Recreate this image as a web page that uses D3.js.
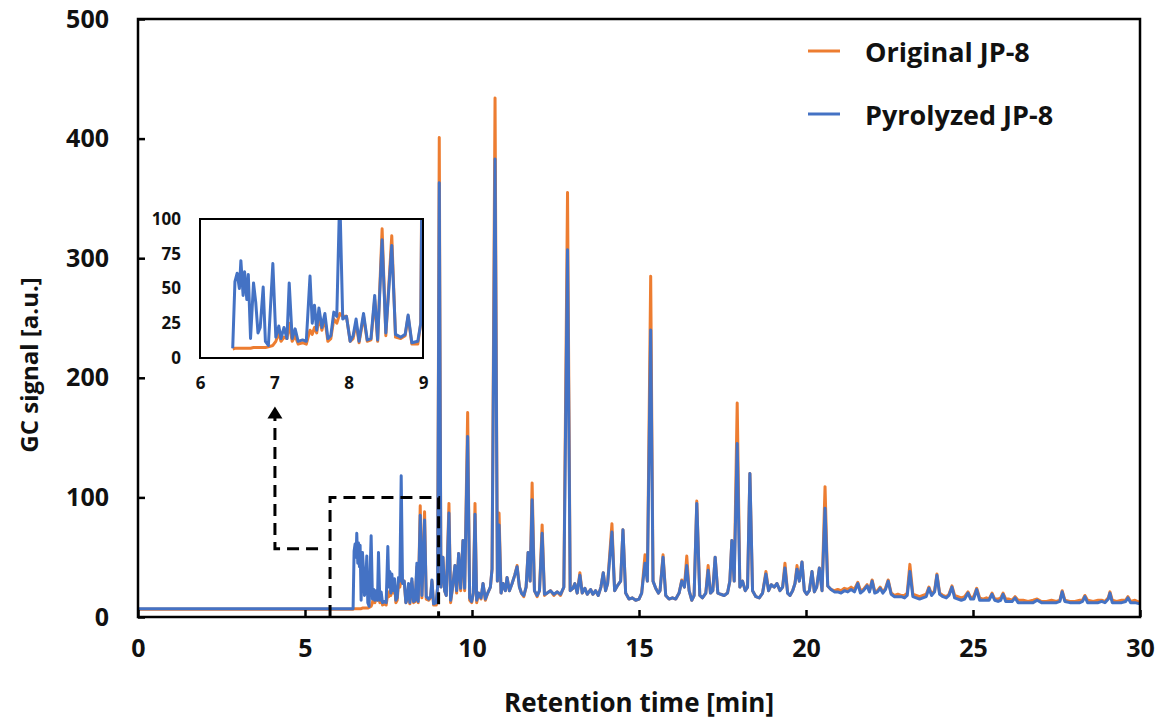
<!DOCTYPE html>
<html><head><meta charset="utf-8">
<script src="https://cdn.jsdelivr.net/npm/d3@7"></script>
<style>
body{margin:0;background:#fff}
svg{display:block}
text{font-family:"Open Sans","Noto Sans",sans-serif;font-weight:700;fill:#111}
</style>
</head><body>
<svg id="chart" width="1160" height="725"></svg>
<script>
// ---------------- data ----------------
const seriesNames = ["Original JP-8", "Pyrolyzed JP-8"];
const xTicks = [0, 5, 10, 15, 20, 25, 30];
const yTicks = [0, 100, 200, 300, 400, 500];
const insetXTicks = [6, 7, 8, 9];
const insetYTicks = [0, 25, 50, 75, 100];
const xLabel = "Retention time [min]";
const yLabel = "GC signal [a.u.]";

const retentionTime = [
  0, 6.44, 6.47, 6.5, 6.53, 6.55, 6.58, 6.6, 6.63, 6.65, 6.68,
  6.72, 6.75, 6.78, 6.81, 6.85, 6.88, 6.92, 6.98, 7.02, 7.06, 7.09, 7.13, 7.17,
  7.2, 7.24, 7.28, 7.32, 7.38, 7.43, 7.48, 7.51, 7.54, 7.57, 7.6, 7.64, 7.68,
  7.72, 7.76, 7.8, 7.84, 7.88, 7.92, 7.97, 8.02, 8.06, 8.1, 8.14, 8.2,
  8.25, 8.3, 8.35, 8.39, 8.45, 8.5, 8.58, 8.63, 8.7, 8.76, 8.8, 8.85, 8.93, 8.97,
  9.02, 9.07, 9.13, 9.18, 9.23, 9.31, 9.36, 9.42, 9.49, 9.54,
  9.6, 9.66, 9.73, 9.78, 9.87, 9.93, 9.99, 10.04, 10.09, 10.14,
  10.2, 10.27, 10.33, 10.4, 10.47, 10.55, 10.6, 10.69, 10.76, 10.81, 10.87,
  10.93, 11.0, 11.05, 11.12, 11.2, 11.28, 11.35, 11.42, 11.48, 11.55,
  11.62, 11.68, 11.74, 11.8, 11.87, 11.95, 12.02, 12.1, 12.17,
  12.25, 12.35, 12.45, 12.55, 12.65, 12.75, 12.86, 12.94,
  13.02, 13.08, 13.15, 13.23, 13.3, 13.38, 13.45, 13.55, 13.62, 13.7, 13.78,
  13.86, 13.93, 14.0, 14.06, 14.19, 14.27, 14.35, 14.45, 14.52, 14.6,
  14.7, 14.8, 14.9, 15.0, 15.08, 15.18, 15.25, 15.35, 15.42, 15.5,
  15.58, 15.63, 15.72, 15.8, 15.9, 16.0, 16.1, 16.2, 16.28, 16.36,
  16.43, 16.5, 16.58, 16.65, 16.73, 16.82, 16.9, 17.0, 17.07, 17.14,
  17.21, 17.28, 17.36, 17.45, 17.55, 17.65, 17.72, 17.78, 17.85,
  17.94, 18.02, 18.1, 18.18, 18.25, 18.32, 18.4, 18.5, 18.6, 18.7,
  18.8, 18.88, 18.96, 19.05, 19.13, 19.22, 19.3, 19.37, 19.45, 19.52,
  19.6, 19.67, 19.73, 19.8, 19.88, 19.95, 20.02, 20.1, 20.18, 20.25, 20.32,
  20.4, 20.48, 20.57, 20.65, 20.75, 20.85, 20.95, 21.05, 21.15, 21.25,
  21.35, 21.45, 21.55, 21.63, 21.72, 21.83, 21.9, 21.98, 22.06,
  22.14, 22.22, 22.3, 22.38, 22.46, 22.55, 22.65, 22.75, 22.85,
  22.95, 23.03, 23.11, 23.2, 23.3, 23.4, 23.5, 23.6, 23.68,
  23.76, 23.85, 23.92, 24.0, 24.1, 24.2, 24.28, 24.37, 24.45,
  24.55, 24.65, 24.75, 24.85, 24.93, 25.02, 25.11, 25.2,
  25.3, 25.4, 25.48, 25.57, 25.65, 25.75, 25.83, 25.9, 25.98,
  26.08, 26.17, 26.26, 26.35, 26.5, 26.65, 26.8, 26.92, 27.05,
  27.2, 27.35, 27.5, 27.6, 27.67, 27.75, 27.9, 28.05,
  28.2, 28.28, 28.35, 28.43, 28.6, 28.75, 28.85, 28.95,
  29.05, 29.1, 29.17, 29.3, 29.45, 29.57, 29.64, 29.72, 29.85, 30
];

const originalJP8 = [
  6.5, 6.5, 7, 7, 7, 7, 7, 7, 7, 7, 7,
  7.5, 7.5, 7.5, 7.5, 7.5, 7.5, 8, 9, 12, 18, 12, 15, 14,
  25, 12, 16, 10, 11, 10, 20, 17, 22, 18, 30, 20, 28,
  12, 14, 28, 25, 32, 30, 30, 12, 14, 25, 11, 30,
  12, 13, 42, 12, 93, 16, 88, 15, 14, 16, 30, 10, 10, 25,
  401, 25, 50, 22, 18, 95, 12, 25, 43, 20,
  53, 22, 64, 22, 171, 14, 12, 20, 95, 12,
  20, 15, 28, 14, 20, 25, 40, 434, 30, 87, 20,
  28, 22, 33, 22, 28, 35, 43, 25, 20, 17,
  25, 54, 30, 112, 22, 17, 22, 77, 18,
  20, 22, 18, 21, 18, 25, 355, 22,
  24, 28, 20, 37, 20, 24, 19, 23, 19, 22, 18,
  25, 37, 22, 28, 78, 22, 26, 30, 73, 20,
  15, 16, 14, 15, 20, 52, 30, 285, 30, 24,
  20, 22, 52, 18, 15, 16, 15, 20, 31, 25,
  51, 22, 14, 18, 97, 18, 16, 20, 43, 20,
  22, 50, 20, 19, 18, 20, 30, 64, 30,
  179, 25, 30, 22, 25, 120, 22, 17, 16, 20,
  38, 22, 27, 25, 28, 22, 25, 45, 20, 18,
  22, 28, 43, 30, 46, 22, 19, 22, 38, 21, 25,
  41, 22, 109, 26, 23, 22, 23, 22, 24, 23,
  25, 23, 29, 22, 23, 27, 22, 31, 21,
  22, 25, 21, 24, 31, 20, 18, 19, 18,
  18, 20, 44, 19, 18, 17, 18, 19, 25,
  19, 22, 36, 20, 18, 17, 19, 26, 18,
  17, 16, 17, 21, 16, 17, 24, 16,
  15, 16, 15, 20, 15, 15, 16, 20, 15,
  15, 14, 17, 14, 14, 13, 14, 15, 13,
  13, 14, 13, 14, 22, 14, 13, 13,
  14, 14, 18, 14, 13, 14, 14, 13,
  16, 21, 14, 13, 14, 14, 17, 13, 14, 12
];

const pyrolyzedJP8 = [
  7, 7, 55, 61, 50, 70, 45, 62, 42, 60, 14,
  54, 40, 18, 22, 51, 12, 9, 68, 15, 23, 14, 22, 14,
  54, 14, 21, 12, 13, 12, 59, 25, 38, 20, 36, 22, 32,
  14, 16, 33, 30, 118, 28, 30, 12, 16, 28, 12, 32,
  13, 14, 45, 13, 85, 18, 81, 17, 15, 17, 31, 11, 12, 25,
  363, 25, 50, 22, 18, 87, 14, 25, 43, 22,
  53, 24, 64, 24, 151, 16, 13, 20, 86, 14,
  20, 16, 28, 15, 20, 25, 40, 383, 30, 77, 20,
  28, 22, 33, 22, 28, 35, 42, 25, 20, 18,
  25, 54, 30, 98, 22, 18, 22, 70, 19,
  20, 22, 19, 21, 19, 25, 307, 22,
  24, 28, 20, 35, 20, 24, 19, 23, 19, 22, 18,
  25, 37, 22, 28, 71, 22, 26, 30, 73, 20,
  15, 16, 14, 15, 20, 45, 30, 240, 30, 24,
  20, 22, 50, 18, 15, 16, 15, 20, 30, 25,
  43, 22, 14, 18, 95, 18, 16, 20, 39, 20,
  22, 50, 20, 19, 18, 20, 30, 64, 30,
  145, 25, 30, 22, 25, 120, 22, 17, 16, 20,
  36, 22, 27, 25, 28, 22, 25, 41, 20, 18,
  22, 28, 40, 30, 46, 22, 19, 22, 38, 21, 25,
  41, 22, 91, 26, 23, 21, 21, 20, 22, 21,
  23, 21, 28, 20, 22, 26, 21, 30, 20,
  21, 24, 20, 23, 30, 19, 17, 17, 17,
  16, 18, 38, 17, 16, 15, 16, 17, 24,
  18, 21, 35, 19, 17, 16, 18, 25, 16,
  15, 14, 15, 20, 15, 15, 23, 14,
  14, 14, 14, 19, 14, 13, 14, 19, 13,
  13, 13, 16, 12, 12, 12, 12, 14, 12,
  12, 12, 12, 13, 21, 13, 12, 12,
  12, 13, 17, 12, 12, 12, 13, 12,
  15, 20, 12, 12, 12, 13, 16, 12, 12, 11
];

// annotation anchors in data units
const zoomBox = {t0: 5.75, t1: 9, v1: 100};
const arrowPath = {tCorner: 4.1, vCorner: 57, vTip: 176};

// ---------------- drawing ----------------
const colors = ["#ED7D31", "#4472C4"];
const plot = {left: 138, right: 1140, top: 19, bottom: 617};
const svg = d3.select("#chart");
const FONT = '"Open Sans","Noto Sans",sans-serif';

const x = d3.scaleLinear().domain([0, 30]).range([plot.left, plot.right]);
const y = d3.scaleLinear().domain([0, 500]).range([plot.bottom, plot.top]);

const n = Math.min(retentionTime.length, originalJP8.length, pyrolyzedJP8.length);
const rows = d3.range(n).map(i => ({t: retentionTime[i], v: [originalJP8[i], pyrolyzedJP8[i]]}));

// main lines
[0, 1].forEach(k => {
  svg.append("path")
    .datum(rows)
    .attr("fill", "none")
    .attr("stroke", colors[k])
    .attr("stroke-width", 3)
    .attr("stroke-linejoin", "round")
    .attr("d", d3.line().x(d => x(d.t)).y(d => y(d.v[k])));
});

// axes
const gx = svg.append("g")
  .attr("transform", `translate(0,${plot.bottom})`)
  .call(d3.axisBottom(x).tickValues(xTicks).tickSizeInner(-7).tickSizeOuter(0).tickPadding(22));
const gy = svg.append("g")
  .attr("transform", `translate(${plot.left},0)`)
  .call(d3.axisLeft(y).tickValues(yTicks).tickSizeInner(-7).tickSizeOuter(0).tickPadding(29));
[gx, gy].forEach(g => {
  g.select(".domain").remove();
  g.selectAll(".tick line").attr("stroke", "#000").attr("stroke-width", 2.5);
  g.selectAll(".tick text").style("font-size", "25px").style("font-family", FONT).style("font-weight", 700).attr("fill", "#111");
});

// frame
svg.append("rect")
  .attr("x", plot.left).attr("y", plot.top)
  .attr("width", plot.right - plot.left).attr("height", plot.bottom - plot.top)
  .attr("fill", "none").attr("stroke", "#000").attr("stroke-width", 2.5);

// axis titles
svg.append("text")
  .attr("x", (plot.left + plot.right) / 2).attr("y", 712)
  .attr("text-anchor", "middle").style("font-size", "26px")
  .text(xLabel);
svg.append("text")
  .attr("transform", `translate(38,365) rotate(-90)`)
  .attr("text-anchor", "middle").style("font-size", "24px")
  .text(yLabel);

// dashed zoom box and arrow
const dash = {stroke: "#000", width: 3, array: "12,7"};
svg.append("path")
  .attr("d", `M${x(zoomBox.t0)},${y(0)} V${y(zoomBox.v1)} H${x(zoomBox.t1)} V${y(0)}`)
  .attr("fill", "none").attr("stroke", dash.stroke).attr("stroke-width", dash.width)
  .attr("stroke-dasharray", dash.array);
const tipY = y(arrowPath.vTip);
svg.append("path")
  .attr("d", `M${x(zoomBox.t0) - 12},${y(arrowPath.vCorner)} H${x(arrowPath.tCorner)} V${tipY + 11}`)
  .attr("fill", "none").attr("stroke", dash.stroke).attr("stroke-width", dash.width)
  .attr("stroke-dasharray", dash.array);
svg.append("path")
  .attr("d", `M${x(arrowPath.tCorner)},${tipY} l-7.5,12 h15 z`)
  .attr("fill", "#000");

// inset
const inset = {left: 200, right: 423, top: 219, bottom: 358};
const xi = d3.scaleLinear().domain([6, 9]).range([inset.left, inset.right]);
const yi = d3.scaleLinear().domain([0, 100]).range([inset.bottom, inset.top]);
svg.append("rect")
  .attr("x", inset.left).attr("y", inset.top)
  .attr("width", inset.right - inset.left).attr("height", inset.bottom - inset.top)
  .attr("fill", "#fff");
svg.append("clipPath").attr("id", "insetClip").append("rect")
  .attr("x", inset.left).attr("y", inset.top)
  .attr("width", inset.right - inset.left).attr("height", inset.bottom - inset.top);
const insetRows = rows.filter(d => d.t >= 5.9 && d.t <= 9.1);
[0, 1].forEach(k => {
  svg.append("path")
    .datum(insetRows)
    .attr("clip-path", "url(#insetClip)")
    .attr("fill", "none")
    .attr("stroke", colors[k])
    .attr("stroke-width", 3)
    .attr("stroke-linejoin", "round")
    .attr("d", d3.line().x(d => xi(d.t)).y(d => yi(d.v[k])));
});
svg.append("rect")
  .attr("x", inset.left).attr("y", inset.top)
  .attr("width", inset.right - inset.left).attr("height", inset.bottom - inset.top)
  .attr("fill", "none").attr("stroke", "#000").attr("stroke-width", 2);
const gxi = svg.append("g").attr("transform", `translate(0,${inset.bottom})`)
  .call(d3.axisBottom(xi).tickValues(insetXTicks).tickFormat(d3.format("d")).tickSize(0).tickPadding(19));
const gyi = svg.append("g").attr("transform", `translate(${inset.left},0)`)
  .call(d3.axisLeft(yi).tickValues(insetYTicks).tickFormat(d3.format("d")).tickSize(0).tickPadding(19));
[gxi, gyi].forEach(g => {
  g.select(".domain").remove();
  g.selectAll(".tick text").style("font-size", "17px").style("font-family", FONT).style("font-weight", 700).attr("fill", "#111");
});

// legend
const legendY = [51, 114];
seriesNames.forEach((name, k) => {
  svg.append("line")
    .attr("x1", 808).attr("x2", 840)
    .attr("y1", legendY[k]).attr("y2", legendY[k])
    .attr("stroke", colors[k]).attr("stroke-width", 3);
  svg.append("text")
    .attr("x", 865).attr("y", legendY[k] + 4)
    .attr("dominant-baseline", "middle")
    .style("font-size", "27px")
    .text(name);
});
</script>
</body></html>
